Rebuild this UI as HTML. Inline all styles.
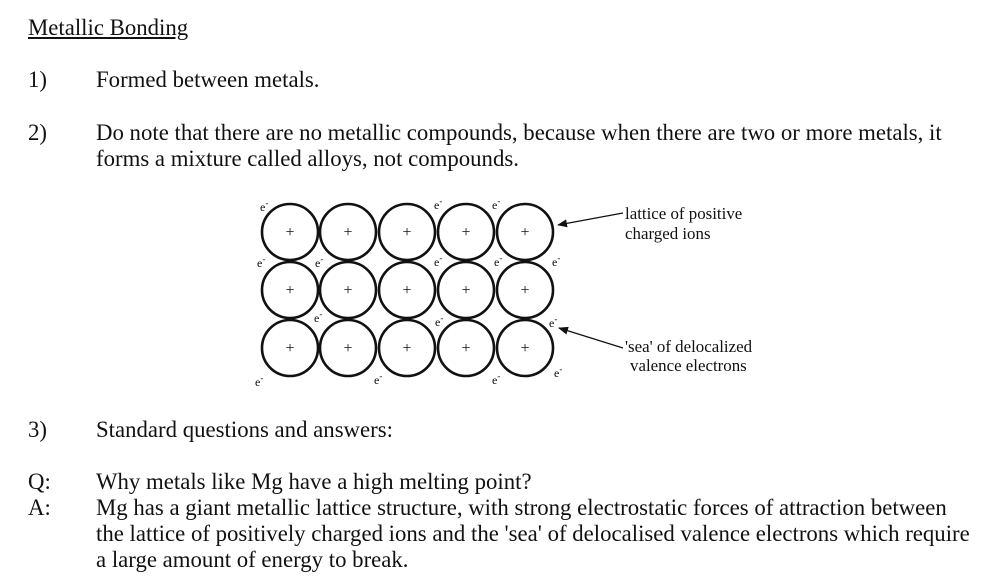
<!DOCTYPE html>
<html><head><style>
body{margin:0;width:1005px;height:585px;background:#fff;position:relative;overflow:hidden;font-family:"Liberation Serif",serif;color:#111;}
.t{position:absolute;font-size:22.8px;white-space:nowrap;line-height:26px;}
</style></head><body>
<div class="t" style="left:28px;top:15px;text-decoration:underline;">Metallic Bonding</div>
<div class="t" style="left:28px;top:67px;">1)</div>
<div class="t" style="left:96px;top:67px;">Formed between metals.</div>
<div class="t" style="left:28px;top:120px;">2)</div>
<div class="t" style="left:96px;top:120px;">Do note that there are no metallic compounds, because when there are two or more metals, it</div>
<div class="t" style="left:96px;top:146px;">forms a mixture called alloys, not compounds.</div>
<div class="t" style="left:28px;top:417px;">3)</div>
<div class="t" style="left:96px;top:417px;">Standard questions and answers:</div>
<div class="t" style="left:28px;top:469px;">Q:</div>
<div class="t" style="left:96px;top:469px;">Why metals like Mg have a high melting point?</div>
<div class="t" style="left:28px;top:495px;">A:</div>
<div class="t" style="left:96px;top:495px;">Mg has a giant metallic lattice structure, with strong electrostatic forces of attraction between</div>
<div class="t" style="left:96px;top:521px;">the lattice of positively charged ions and the 'sea' of delocalised valence electrons which require</div>
<div class="t" style="left:96px;top:547px;">a large amount of energy to break.</div>
<svg width="1005" height="585" style="position:absolute;left:0;top:0" font-family="Liberation Serif, serif">
<defs><marker id="ah" markerWidth="10" markerHeight="8" refX="9" refY="4" orient="auto" markerUnits="userSpaceOnUse"><path d="M0,0 L10,4 L0,8 Z" fill="#111"/></marker></defs>
<g fill="none" stroke="#111" stroke-width="2.6">
<circle cx="290" cy="232" r="28"/><circle cx="348" cy="232" r="28"/><circle cx="407" cy="232" r="28"/><circle cx="466" cy="232" r="28"/><circle cx="525" cy="232" r="28"/>
<circle cx="290" cy="290" r="28"/><circle cx="348" cy="290" r="28"/><circle cx="407" cy="290" r="28"/><circle cx="466" cy="290" r="28"/><circle cx="525" cy="290" r="28"/>
<circle cx="290" cy="348" r="28"/><circle cx="348" cy="348" r="28"/><circle cx="407" cy="348" r="28"/><circle cx="466" cy="348" r="28"/><circle cx="525" cy="348" r="28"/>
</g>
<g font-size="16" text-anchor="middle" fill="#111">
<text x="290" y="237">+</text><text x="348" y="237">+</text><text x="407" y="237">+</text><text x="466" y="237">+</text><text x="525" y="237">+</text>
<text x="290" y="295">+</text><text x="348" y="295">+</text><text x="407" y="295">+</text><text x="466" y="295">+</text><text x="525" y="295">+</text>
<text x="290" y="353">+</text><text x="348" y="353">+</text><text x="407" y="353">+</text><text x="466" y="353">+</text><text x="525" y="353">+</text>
</g>
<g font-size="12" fill="#111">
<text x="260" y="211">e<tspan dy="-5" font-size="9">-</tspan></text>
<text x="434" y="209">e<tspan dy="-5" font-size="9">-</tspan></text>
<text x="492" y="209">e<tspan dy="-5" font-size="9">-</tspan></text>
<text x="257" y="267">e<tspan dy="-5" font-size="9">-</tspan></text>
<text x="315" y="267">e<tspan dy="-5" font-size="9">-</tspan></text>
<text x="434" y="266">e<tspan dy="-5" font-size="9">-</tspan></text>
<text x="494" y="266">e<tspan dy="-5" font-size="9">-</tspan></text>
<text x="552" y="266">e<tspan dy="-5" font-size="9">-</tspan></text>
<text x="314" y="322">e<tspan dy="-5" font-size="9">-</tspan></text>
<text x="435" y="326">e<tspan dy="-5" font-size="9">-</tspan></text>
<text x="549" y="327">e<tspan dy="-5" font-size="9">-</tspan></text>
<text x="255" y="386">e<tspan dy="-5" font-size="9">-</tspan></text>
<text x="374" y="384">e<tspan dy="-5" font-size="9">-</tspan></text>
<text x="492" y="384">e<tspan dy="-5" font-size="9">-</tspan></text>
<text x="554" y="377">e<tspan dy="-5" font-size="9">-</tspan></text>
</g>
<line x1="623" y1="213" x2="558" y2="225" stroke="#111" stroke-width="1.2" marker-end="url(#ah)"/>
<line x1="623" y1="348" x2="559" y2="328" stroke="#111" stroke-width="1.2" marker-end="url(#ah)"/>
<g font-size="16.9" fill="#111">
<text x="625" y="219">lattice of positive</text>
<text x="625" y="239">charged ions</text>
<text x="625" y="352">'sea' of delocalized</text>
<text x="630" y="371">valence electrons</text>
</g>
</svg>
</body></html>
